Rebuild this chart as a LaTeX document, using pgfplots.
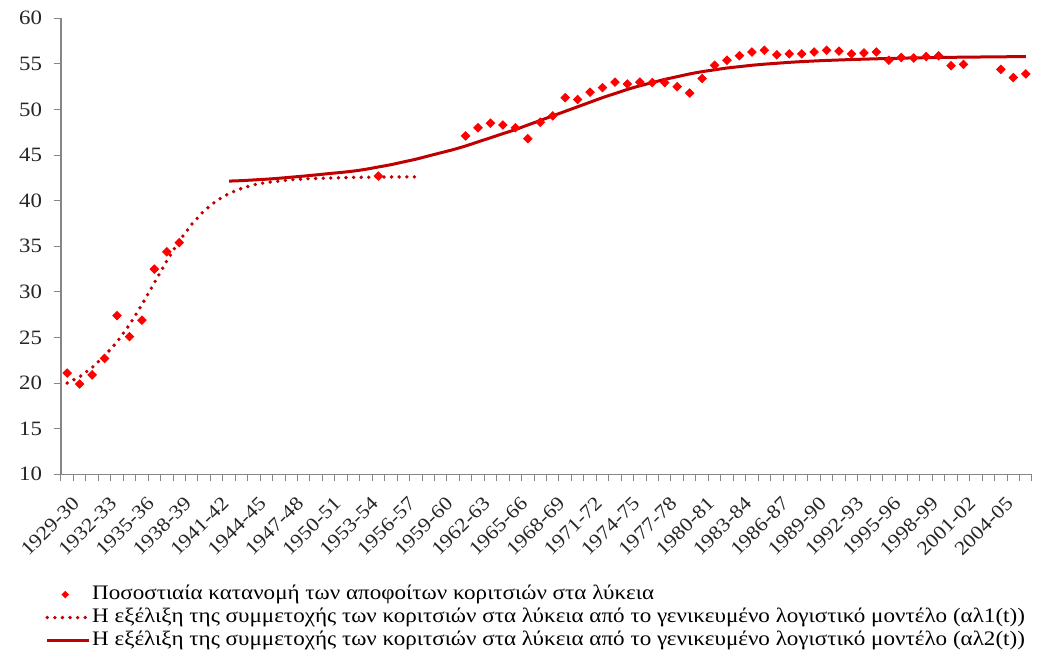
\documentclass[border=0pt]{standalone}
\usepackage{fontspec}
\setmainfont[FakeStretch=1.12]{Liberation Serif}
\usepackage{pgfplots}
\pgfplotsset{compat=1.18}
\usepackage{pgfplotstable}

\definecolor{ptred}{HTML}{FF0000}
\definecolor{linered}{HTML}{C00000}
\definecolor{axgray}{HTML}{868686}

\pgfplotsset{
    lineleg/.style={legend image code/.code={\draw[##1] (0pt,0pt) -- (21pt,0pt);}},
    markleg/.style={legend image code/.code={\draw[mark repeat=2,mark phase=2,mark size=1.1pt,##1]
        plot coordinates {(0pt,0pt) (9pt,0pt) (18pt,0pt)};}},
}

% observed shares (category index 0 = 1929-30)
\pgfplotstableread{
i y
0 21.1
1 19.9
2 20.9
3 22.7
4 27.4
5 25.1
6 26.9
7 32.5
8 34.4
9 35.4
25 42.7
32 47.1
33 48.0
34 48.5
35 48.3
36 48.0
37 46.8
38 48.6
39 49.3
40 51.3
41 51.1
42 51.9
43 52.4
44 53.0
45 52.8
46 53.0
47 52.95
48 52.95
49 52.5
50 51.8
51 53.4
52 54.85
53 55.4
54 55.9
55 56.3
56 56.5
57 56.0
58 56.1
59 56.1
60 56.3
61 56.5
62 56.4
63 56.1
64 56.2
65 56.3
66 55.4
67 55.7
68 55.65
69 55.8
70 55.9
71 54.8
72 54.95
75 54.4
76 53.5
77 53.9
}\observed

% model al1(t)
\pgfplotstableread{
i y
0 20.0
1 20.7
2 21.7
3 23.0
4 24.5
5 26.4
6 28.6
7 31.0
8 33.4
9 35.6
10 37.4
11 38.9
12 40.0
13 40.8
14 41.35
15 41.75
16 42.0
17 42.15
18 42.3
19 42.38
20 42.44
21 42.48
22 42.52
23 42.55
24 42.57
25 42.59
26 42.6
27 42.61
28 42.62
}\modelone

% model al2(t)
\pgfplotstableread{
i y
13 42.15
14 42.2
15 42.28
16 42.36
17 42.46
18 42.58
19 42.7
20 42.83
21 42.97
22 43.1
23 43.25
24 43.45
25 43.7
26 43.95
27 44.25
28 44.55
29 44.9
30 45.25
31 45.6
32 46.0
33 46.45
34 46.9
35 47.35
36 47.8
37 48.3
38 48.8
39 49.3
40 49.8
41 50.3
42 50.8
43 51.3
44 51.75
45 52.2
46 52.6
47 52.95
48 53.3
49 53.6
50 53.9
51 54.15
52 54.35
53 54.55
54 54.7
55 54.85
56 54.97
57 55.07
58 55.17
59 55.25
60 55.32
61 55.38
62 55.43
63 55.48
64 55.52
65 55.56
66 55.6
67 55.63
68 55.66
69 55.68
70 55.7
71 55.72
72 55.74
73 55.75
74 55.77
75 55.78
76 55.79
77 55.8
}\modeltwo

\begin{document}
\begin{tikzpicture}
\useasboundingbox (-30.5pt,-92.5pt) rectangle (489pt,237.15pt);
\begin{axis}[
    at={(0,0)}, anchor=south west,
    scale only axis,
    width=485.5pt, height=228pt,
    xmin=-0.5, xmax=77.5,
    ymin=10, ymax=60,
    axis x line=bottom, axis y line=left,
    axis line style={draw=axgray, line width=0.6pt, -},
    tick align=outside,
    major tick length=3.5pt,
    tick style={draw=axgray, line width=0.5pt},
    ytick={10,15,...,60},
    yticklabel style={font=\fontsize{10.2}{12}\selectfont, text=black!85, xshift=-2.5pt,
        /pgf/number format/assume math mode=true},
    xtick={-0.5,0.5,...,77.5},
    xticklabels={},
    extra x ticks={0,3,...,75},
    extra x tick labels={1929-30,1932-33,1935-36,1938-39,1941-42,1944-45,1947-48,
        1950-51,1953-54,1956-57,1959-60,1962-63,1965-66,1968-69,1971-72,1974-75,
        1977-78,1980-81,1983-84,1986-87,1989-90,1992-93,1995-96,1998-99,2001-02,2004-05},
    extra x tick style={major tick length=0pt,
        tick label style={xshift=2pt, yshift=-10.5pt, rotate=45, anchor=north east,
        inner sep=0pt, font=\fontsize{9.8}{12}\selectfont, text=black!85}},
    legend style={at={(axis description cs:-0.0227,-0.23)}, anchor=north west,
        draw=none, fill=none, font=\fontsize{10.3}{12}\selectfont,
        nodes={inner sep=0.5pt, text height=7.5pt, text depth=2.5pt},
        row sep=0.5pt,
        /tikz/every even column/.append style={column sep=1.5pt}},
    legend cell align=left,
]
\addplot[only marks, mark=square*, mark size=1.5pt,
    mark options={rotate=45, fill=ptred, draw=ptred}, markleg]
    table[x=i, y=y] {\observed};
\addlegendentry{Ποσοστιαία κατανομή των αποφοίτων κοριτσιών στα λύκεια}

\addplot[linered, line width=1.9pt, line cap=round, dash pattern=on 0pt off 3.8pt,
    mark=none, lineleg]
    table[x=i, y=y] {\modelone};
\addlegendentry{Η εξέλιξη της συμμετοχής των κοριτσιών στα λύκεια από το γενικευμένο λογιστικό μοντέλο (αλ1(t))}

\addplot[linered, line width=1.5pt, smooth, mark=none, lineleg]
    table[x=i, y=y] {\modeltwo};
\addlegendentry{Η εξέλιξη της συμμετοχής των κοριτσιών στα λύκεια από το γενικευμένο λογιστικό μοντέλο (αλ2(t))}
\end{axis}
\end{tikzpicture}
\end{document}
